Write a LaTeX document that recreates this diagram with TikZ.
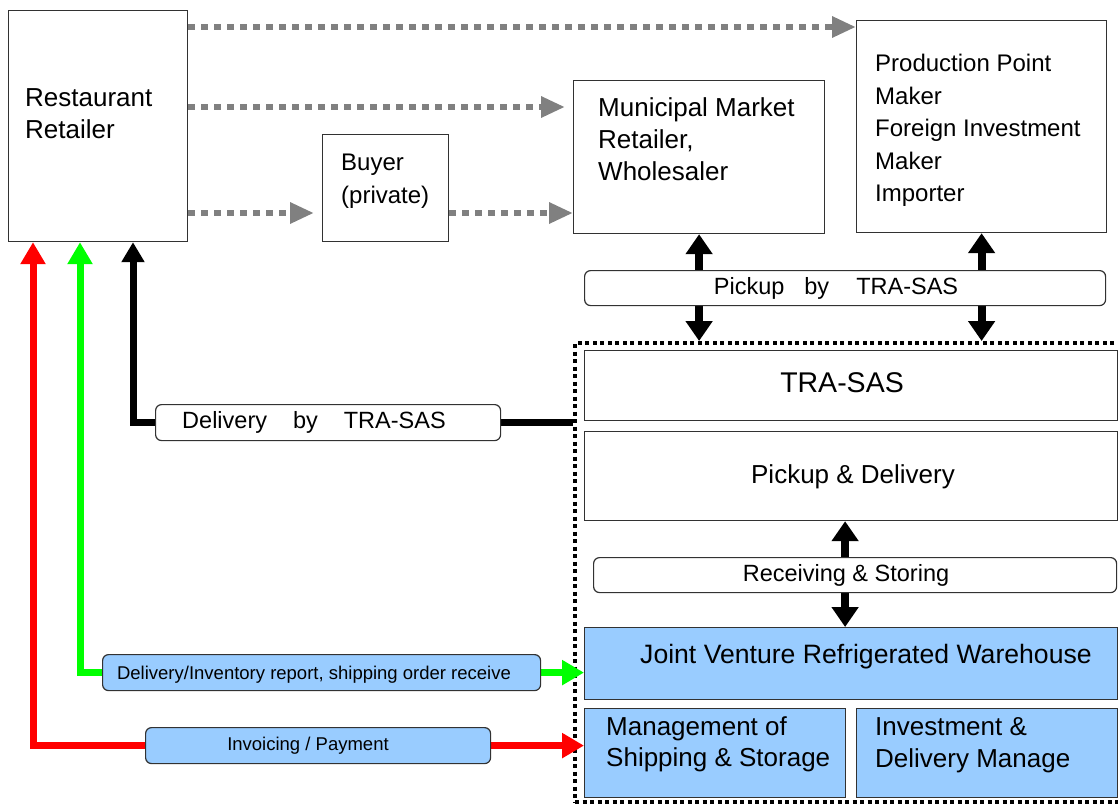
\documentclass[tikz,border=0pt]{standalone}
\usepackage{fontspec}
\setmainfont{Liberation Sans}
\usetikzlibrary{arrows.meta,calc}
\definecolor{boxblue}{RGB}{153,204,255}
\definecolor{edge}{RGB}{50,50,50}
\definecolor{grayarr}{RGB}{128,128,128}
\definecolor{myred}{RGB}{255,0,0}
\definecolor{mygreen}{RGB}{0,255,0}
\begin{document}
\begin{tikzpicture}[x=1pt,y=-1pt,
  box/.style={draw=edge, line width=1.2pt, fill=white, inner sep=0pt, anchor=north west},
  bluebox/.style={box, fill=boxblue},
  bar/.style={box, rounded corners=6pt},
  bluebar/.style={bar, fill=boxblue},
  txt/.style={inner sep=0pt, anchor=north west, align=left},
  fbig/.style={font=\fontsize{26}{32}\selectfont},
  fmid/.style={font=\fontsize{24}{32.5}\selectfont},
  flab/.style={font=\fontsize{23.5}{28}\selectfont},
  fsmall/.style={font=\fontsize{18.5}{22}\selectfont},
  grayline/.style={draw=grayarr, line width=6pt, dash pattern=on 7pt off 6pt,
    -{Triangle[length=24pt,width=20pt]}},
  dbl/.style={draw=black, line width=8pt, {Triangle[length=20pt,width=26pt]}-{Triangle[length=20pt,width=26pt]}},
  blkline/.style={draw=black, line width=7pt, line join=miter, -{Triangle[length=20pt,width=22pt]}},
  redline/.style={draw=myred, line width=7pt, line join=miter, {Triangle[length=22pt,width=24pt]}-{Triangle[length=22pt,width=24pt]}},
  greenline/.style={draw=mygreen, line width=7pt, line join=miter, {Triangle[length=22pt,width=24pt]}-{Triangle[length=22pt,width=24pt]}},
  container/.style={draw=black, line width=4pt, dash pattern=on 4pt off 3.5pt, inner sep=0pt, anchor=north west}
]
\useasboundingbox (0,0) rectangle (1118,803);

% dotted container
\node[container, minimum width=550pt, minimum height=459pt] (cont) at (573,341) {};

% top boxes
\node[box, minimum width=179pt, minimum height=231pt] (rest) at (8,10) {};
\node[box, minimum width=126pt, minimum height=107pt] (buyer) at (322,134) {};
\node[box, minimum width=251pt, minimum height=153pt] (muni) at (573,80) {};
\node[box, minimum width=250pt, minimum height=212pt] (prod) at (856,20) {};

% gray dotted arrows
\draw[grayline] ([yshift=-17pt]rest.north east) -- ([yshift=-7pt]prod.north west);
\draw[grayline] ([yshift=-97pt]rest.north east) -- ([xshift=-8pt,yshift=-27pt]muni.north west);
\draw[grayline] ([yshift=-203pt]rest.north east) -- ([xshift=-8pt,yshift=-79pt]buyer.north west);
\draw[grayline] ([yshift=-79pt]buyer.north east) -- ([yshift=-133pt]muni.north west);

% double arrows from top boxes
\draw[dbl] (muni.south) -- (muni.south |- cont.north);
\draw[dbl] (prod.south) -- (prod.south |- cont.north);

% inner boxes
\node[box, minimum width=533pt, minimum height=70pt] (tra) at (584,350) {};
\node[box, minimum width=533pt, minimum height=89pt] (pd) at (584,431) {};
\node[bluebox, minimum width=533pt, minimum height=72pt] (jv) at (584,627) {};
\node[bluebox, minimum width=261pt, minimum height=89pt] (mg) at (584,708) {};
\node[bluebox, minimum width=261pt, minimum height=89pt] (inv) at (856,708) {};

\draw[dbl] ([xshift=-6pt]pd.south) -- ([xshift=-6pt]pd.south |- jv.north);

% left connectors
\draw[blkline] ([yshift=-81pt]cont.north west) -| ([xshift=125pt]rest.south west);
\draw[greenline] ([xshift=72pt]rest.south west) |- ([yshift=-9pt]jv.west);
\draw[redline] ([xshift=25pt]rest.south west) |- ([yshift=7.5pt]mg.west);

% bars
\node[bar, minimum width=521pt, minimum height=35pt] (pkbar) at (584,270) {};
\node[bar, minimum width=523pt, minimum height=35pt] (rsbar) at (593,557) {};
\node[bar, minimum width=345pt, minimum height=36pt] (dlab) at (155,404) {};
\node[bluebar, minimum width=438pt, minimum height=36pt] (glab) at (102,654) {};
\node[bluebar, minimum width=345pt, minimum height=36pt] (rlab) at (145,727) {};

% texts
\node[txt, fbig] (restT) at (25,88) {Restaurant\\Retailer};
\node[txt, fmid] (buyerT) at (341,154) {Buyer\\(private)};
\node[txt, fbig] (muniT) at (598,97) {Municipal Market\\Retailer,\\Wholesaler};
\node[txt, fmid] (prodT) at (875,54) {Production Point\\Maker\\Foreign Investment\\Maker\\Importer};
\node[inner sep=0pt, font=\fontsize{28.5}{34}\selectfont] (traT) at (842,383) {TRA-SAS};
\node[inner sep=0pt, fbig] (pdT) at (853,477) {Pickup \& Delivery};
\node[inner sep=0pt, flab] (rsT) at (846,575) {Receiving \& Storing};
\node[inner sep=0pt, flab] (pkT) at (836,288) {Pickup\hspace{20pt}by\hspace{27pt}TRA-SAS};
\node[inner sep=0pt, flab] (dlT) at (314,422) {Delivery\hspace{26pt}by\hspace{26pt}TRA-SAS};
\node[inner sep=0pt, fsmall] (glT) at (314,675) {Delivery/Inventory report, shipping order receive};
\node[inner sep=0pt, fsmall] (rlT) at (308,746) {Invoicing / Payment};
\node[anchor=west, inner sep=0pt, font=\fontsize{26.6}{32}\selectfont] (jvT) at (640,657) {Joint Venture Refrigerated Warehouse};
\node[txt, font=\fontsize{26}{31}\selectfont] (mgT) at (606,716) {Management of\\Shipping \& Storage};
\node[txt, fbig] (invT) at (875,717) {Investment \&\\Delivery Manage};
\end{tikzpicture}
\end{document}
